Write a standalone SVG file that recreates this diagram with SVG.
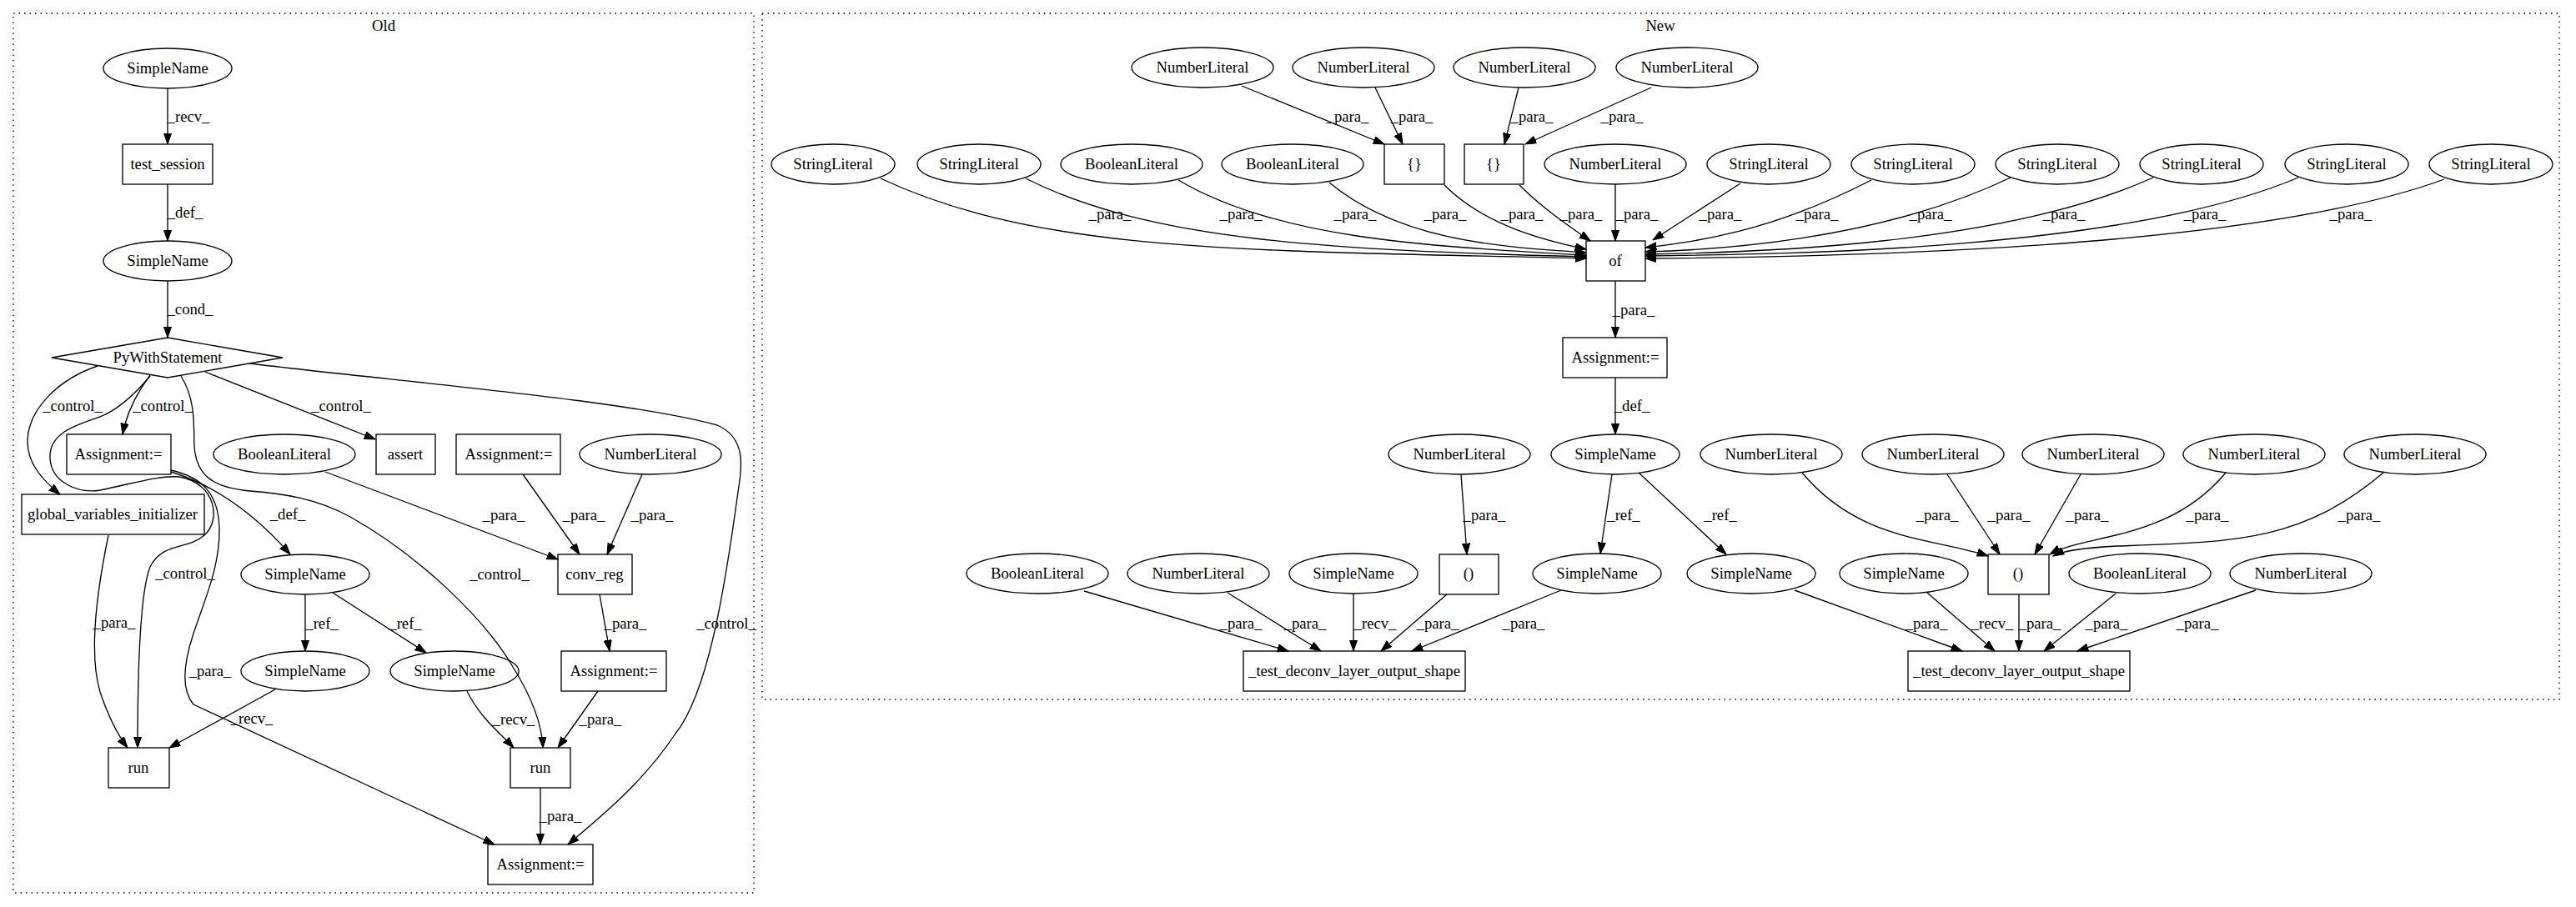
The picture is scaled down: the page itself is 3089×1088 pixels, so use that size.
<svg xmlns="http://www.w3.org/2000/svg" width="3089" height="1088" viewBox="0 0 3089 1088">
<style>
.n ellipse,.n rect,.n polygon{fill:none;stroke:#000;stroke-width:1.33}
text{font-family:"Liberation Serif","Times New Roman",serif;font-size:18.67px;text-anchor:middle;fill:#000}
.e path{fill:none;stroke:#000;stroke-width:1.33;marker-end:url(#a)}
.c{fill:none;stroke:#000;stroke-width:1.33;stroke-dasharray:1.5,5}
</style>
<defs>
<marker id="a" markerWidth="14" markerHeight="10" refX="13.33" refY="4.67" orient="auto" markerUnits="userSpaceOnUse"><path d="M0,0 L13.33,4.67 L0,9.33 z" fill="#000" stroke="#000" stroke-width="1"/></marker>
</defs>
<rect width="3089" height="1088" fill="#fff"/>
<g id="cluster_old"><rect class="c" x="16" y="16" width="888" height="1055"/><text x="460" y="37">Old</text></g>
<g id="cluster_new"><rect class="c" x="914" y="16" width="2155" height="823"/><text x="1991" y="37">New</text></g>

<g id="connectors">
<g class="e">
<!-- Old -->
<path d="M201,106 L201,173"/>
<path d="M201,221 L201,289"/>
<path d="M201,337 L201,405"/>
<path d="M180,450 C165,470 152,495 147,521"/>
<path d="M117,439 C70,455 35,490 33,527 C32,555 50,575 72,593"/>
<path d="M246,446 L450,527"/>
<path d="M299,436 C500,460 750,480 860,510 C895,525 890,560 885,590 C870,700 850,830 810,880 C770,940 720,980 681,1013"/>
<path d="M217,451 C235,480 232,510 233,535 C235,570 255,585 300,589 C340,592 380,598 420,620 C500,665 580,740 615,800 C640,840 650,870 651,897"/>
<path d="M180,451 C160,475 140,492 120,500 C90,510 58,520 60,550 C62,580 95,592 120,588 C160,580 190,570 215,572 C260,580 265,625 245,642 C225,660 195,650 180,680 C168,710 165,800 165,897"/>
<path d="M205,564 C240,572 262,590 263,633 C264,680 245,720 232,760 C222,790 215,825 232,845 L593,1013"/>
<path d="M205,566 C250,580 300,610 348,665"/>
<path d="M130,642 C118,700 105,780 120,830 C130,860 140,880 153,897"/>
<path d="M390,566 L669,671"/>
<path d="M627,569 L695,665"/>
<path d="M770,569 L728,665"/>
<path d="M719,713 L731,781"/>
<path d="M366,713 L366,781"/>
<path d="M399,711 L511,783"/>
<path d="M330,827 L203,897"/>
<path d="M560,829 C575,860 600,880 616,897"/>
<path d="M717,829 L669,897"/>
<path d="M648,945 L648,1013"/>
<!-- New -->
<path d="M1489,103 L1660,173"/>
<path d="M1649,105 L1682,173"/>
<path d="M1821,105 L1804,173"/>
<path d="M1980,105 L1829,173"/>
<path d="M1056,214 C1250,305 1500,300 1902,310"/>
<path d="M1230,214 C1380,290 1600,300 1902,308"/>
<path d="M1413,216 C1530,285 1700,295 1902,306"/>
<path d="M1594,219 C1680,290 1800,296 1902,303"/>
<path d="M1732,222 C1780,270 1850,288 1902,299"/>
<path d="M1822,222 C1850,250 1880,270 1907,289"/>
<path d="M1937,221 L1937,289"/>
<path d="M2087,220 L1982,288"/>
<path d="M2244,216 C2120,280 2030,290 1973,297"/>
<path d="M2411,213 C2250,290 2050,300 1973,302"/>
<path d="M2582,213 C2400,295 2100,303 1973,305"/>
<path d="M2756,213 C2550,300 2150,305 1973,307"/>
<path d="M2931,215 C2700,300 2200,308 1973,310"/>
<path d="M1937,337 L1937,405"/>
<path d="M1937,453 L1937,521"/>
<path d="M1933,569 L1919,664"/>
<path d="M1965,567 L2070,665"/>
<path d="M1752,569 L1759,665"/>
<path d="M2161,567 C2230,650 2320,645 2384,667"/>
<path d="M2335,569 L2398,665"/>
<path d="M2495,569 L2440,665"/>
<path d="M2669,567 C2600,650 2500,640 2458,665"/>
<path d="M2858,567 C2760,650 2680,650 2540,655 C2500,657 2475,660 2462,667"/>
<path d="M1300,709 L1545,781"/>
<path d="M1472,711 L1584,781"/>
<path d="M1623,712 L1623,781"/>
<path d="M1735,713 L1656,781"/>
<path d="M1872,708 L1693,781"/>
<path d="M2152,708 L2353,781"/>
<path d="M2311,711 L2392,781"/>
<path d="M2421,713 L2421,781"/>
<path d="M2537,712 L2451,781"/>
<path d="M2705,708 L2491,781"/>
</g>
<g id="edge_labels">
<text x="226" y="146">_recv_</text>
<text x="222" y="261">_def_</text>
<text x="228" y="377">_cond_</text>
<text x="87" y="493">_control_</text>
<text x="195" y="493">_control_</text>
<text x="409" y="493">_control_</text>
<text x="345" y="623">_def_</text>
<text x="604" y="624">_para_</text>
<text x="700" y="624">_para_</text>
<text x="782" y="624">_para_</text>
<text x="222" y="694">_control_</text>
<text x="599" y="695">_control_</text>
<text x="137" y="753">_para_</text>
<text x="386" y="754">_ref_</text>
<text x="486" y="754">_ref_</text>
<text x="750" y="754">_para_</text>
<text x="871" y="754">_control_</text>
<text x="252" y="811">_para_</text>
<text x="302" y="868">_recv_</text>
<text x="616" y="869">_recv_</text>
<text x="720" y="869">_para_</text>
<text x="672" y="985">_para_</text>
<text x="1616" y="146">_para_</text>
<text x="1693" y="146">_para_</text>
<text x="1837" y="146">_para_</text>
<text x="1945" y="146">_para_</text>
<text x="1331" y="263">_para_</text>
<text x="1488" y="263">_para_</text>
<text x="1625" y="263">_para_</text>
<text x="1733" y="263">_para_</text>
<text x="1825" y="263">_para_</text>
<text x="1896" y="263">_para_</text>
<text x="1963" y="263">_para_</text>
<text x="2063" y="263">_para_</text>
<text x="2179" y="263">_para_</text>
<text x="2315" y="263">_para_</text>
<text x="2475" y="263">_para_</text>
<text x="2644" y="263">_para_</text>
<text x="2819" y="263">_para_</text>
<text x="1959" y="378">_para_</text>
<text x="1957" y="493">_def_</text>
<text x="1947" y="624">_ref_</text>
<text x="2063" y="624">_ref_</text>
<text x="1780" y="624">_para_</text>
<text x="2323" y="624">_para_</text>
<text x="2409" y="624">_para_</text>
<text x="2503" y="624">_para_</text>
<text x="2647" y="624">_para_</text>
<text x="2829" y="624">_para_</text>
<text x="1488" y="754">_para_</text>
<text x="1565" y="754">_para_</text>
<text x="1649" y="754">_recv_</text>
<text x="1724" y="754">_para_</text>
<text x="1827" y="754">_para_</text>
<text x="2310" y="754">_para_</text>
<text x="2389" y="754">_recv_</text>
<text x="2446" y="754">_para_</text>
<text x="2526" y="754">_para_</text>
<text x="2635" y="754">_para_</text>
</g>
</g>

<!-- Old nodes -->
<g id="o1" class="n"><ellipse cx="201" cy="82" rx="77" ry="24"/><text x="201" y="88">SimpleName</text></g>
<g id="o2" class="n"><rect x="147" y="173" width="108" height="48"/><text x="201" y="203">test_session</text></g>
<g id="o3" class="n"><ellipse cx="201" cy="313" rx="77" ry="24"/><text x="201" y="319">SimpleName</text></g>
<g id="o4" class="n"><polygon points="201,405 339,429 201,453 62,429"/><text x="201" y="435">PyWithStatement</text></g>
<g id="o5" class="n"><rect x="80" y="521" width="125" height="48"/><text x="142" y="551">Assignment:=</text></g>
<g id="o6" class="n"><ellipse cx="341" cy="545" rx="85" ry="24"/><text x="341" y="551">BooleanLiteral</text></g>
<g id="o7" class="n"><rect x="451" y="521" width="71" height="48"/><text x="486" y="551">assert</text></g>
<g id="o8" class="n"><rect x="547" y="521" width="125" height="48"/><text x="610" y="551">Assignment:=</text></g>
<g id="o9" class="n"><ellipse cx="780" cy="545" rx="85" ry="24"/><text x="780" y="551">NumberLiteral</text></g>
<g id="o10" class="n"><rect x="26" y="593" width="219" height="48"/><text x="135" y="623">global_variables_initializer</text></g>
<g id="o11" class="n"><ellipse cx="366" cy="689" rx="77" ry="24"/><text x="366" y="695">SimpleName</text></g>
<g id="o12" class="n"><rect x="669" y="665" width="89" height="48"/><text x="713" y="695">conv_reg</text></g>
<g id="o13" class="n"><ellipse cx="366" cy="805" rx="77" ry="24"/><text x="366" y="811">SimpleName</text></g>
<g id="o14" class="n"><ellipse cx="545" cy="805" rx="77" ry="24"/><text x="545" y="811">SimpleName</text></g>
<g id="o15" class="n"><rect x="673" y="781" width="126" height="48"/><text x="736" y="811">Assignment:=</text></g>
<g id="o16" class="n"><rect x="130" y="897" width="73" height="48"/><text x="166" y="927">run</text></g>
<g id="o17" class="n"><rect x="612" y="897" width="72" height="48"/><text x="648" y="927">run</text></g>
<g id="o18" class="n"><rect x="585" y="1013" width="126" height="48"/><text x="648" y="1043">Assignment:=</text></g>

<!-- New nodes -->
<g id="n1" class="n"><ellipse cx="1442" cy="81" rx="85" ry="24"/><text x="1442" y="87">NumberLiteral</text></g>
<g id="n2" class="n"><ellipse cx="1635" cy="81" rx="85" ry="24"/><text x="1635" y="87">NumberLiteral</text></g>
<g id="n3" class="n"><ellipse cx="1828" cy="81" rx="85" ry="24"/><text x="1828" y="87">NumberLiteral</text></g>
<g id="n4" class="n"><ellipse cx="2023" cy="81" rx="85" ry="24"/><text x="2023" y="87">NumberLiteral</text></g>
<g id="n5" class="n"><ellipse cx="999" cy="197" rx="74" ry="24"/><text x="999" y="203">StringLiteral</text></g>
<g id="n6" class="n"><ellipse cx="1174" cy="197" rx="74" ry="24"/><text x="1174" y="203">StringLiteral</text></g>
<g id="n7" class="n"><ellipse cx="1357" cy="197" rx="85" ry="24"/><text x="1357" y="203">BooleanLiteral</text></g>
<g id="n8" class="n"><ellipse cx="1550" cy="197" rx="85" ry="24"/><text x="1550" y="203">BooleanLiteral</text></g>
<g id="n9" class="n"><rect x="1660" y="173" width="72" height="48"/><text x="1696" y="203">{}</text></g>
<g id="n10" class="n"><rect x="1756" y="173" width="71" height="48"/><text x="1791" y="203">{}</text></g>
<g id="n11" class="n"><ellipse cx="1937" cy="197" rx="85" ry="24"/><text x="1937" y="203">NumberLiteral</text></g>
<g id="n12" class="n"><ellipse cx="2121" cy="197" rx="74" ry="24"/><text x="2121" y="203">StringLiteral</text></g>
<g id="n13" class="n"><ellipse cx="2294" cy="197" rx="74" ry="24"/><text x="2294" y="203">StringLiteral</text></g>
<g id="n14" class="n"><ellipse cx="2467" cy="197" rx="74" ry="24"/><text x="2467" y="203">StringLiteral</text></g>
<g id="n15" class="n"><ellipse cx="2640" cy="197" rx="74" ry="24"/><text x="2640" y="203">StringLiteral</text></g>
<g id="n16" class="n"><ellipse cx="2814" cy="197" rx="74" ry="24"/><text x="2814" y="203">StringLiteral</text></g>
<g id="n17" class="n"><ellipse cx="2987" cy="197" rx="74" ry="24"/><text x="2987" y="203">StringLiteral</text></g>
<g id="n18" class="n"><rect x="1902" y="289" width="71" height="48"/><text x="1937" y="319">of</text></g>
<g id="n19" class="n"><rect x="1874" y="405" width="125" height="48"/><text x="1937" y="435">Assignment:=</text></g>
<g id="n20" class="n"><ellipse cx="1750" cy="545" rx="85" ry="24"/><text x="1750" y="551">NumberLiteral</text></g>
<g id="n21" class="n"><ellipse cx="1937" cy="545" rx="77" ry="24"/><text x="1937" y="551">SimpleName</text></g>
<g id="n22" class="n"><ellipse cx="2124" cy="545" rx="85" ry="24"/><text x="2124" y="551">NumberLiteral</text></g>
<g id="n23" class="n"><ellipse cx="2318" cy="545" rx="85" ry="24"/><text x="2318" y="551">NumberLiteral</text></g>
<g id="n24" class="n"><ellipse cx="2510" cy="545" rx="85" ry="24"/><text x="2510" y="551">NumberLiteral</text></g>
<g id="n25" class="n"><ellipse cx="2703" cy="545" rx="85" ry="24"/><text x="2703" y="551">NumberLiteral</text></g>
<g id="n26" class="n"><ellipse cx="2896" cy="545" rx="85" ry="24"/><text x="2896" y="551">NumberLiteral</text></g>
<g id="n27" class="n"><ellipse cx="1244" cy="688" rx="85" ry="24"/><text x="1244" y="694">BooleanLiteral</text></g>
<g id="n28" class="n"><ellipse cx="1437" cy="688" rx="85" ry="24"/><text x="1437" y="694">NumberLiteral</text></g>
<g id="n29" class="n"><ellipse cx="1623" cy="688" rx="77" ry="24"/><text x="1623" y="694">SimpleName</text></g>
<g id="n30" class="n"><rect x="1726" y="665" width="71" height="48"/><text x="1761" y="694">()</text></g>
<g id="n31" class="n"><ellipse cx="1915" cy="688" rx="77" ry="24"/><text x="1915" y="694">SimpleName</text></g>
<g id="n32" class="n"><ellipse cx="2100" cy="688" rx="77" ry="24"/><text x="2100" y="694">SimpleName</text></g>
<g id="n33" class="n"><ellipse cx="2283" cy="688" rx="77" ry="24"/><text x="2283" y="694">SimpleName</text></g>
<g id="n34" class="n"><rect x="2384" y="665" width="73" height="48"/><text x="2420" y="694">()</text></g>
<g id="n35" class="n"><ellipse cx="2566" cy="688" rx="85" ry="24"/><text x="2566" y="694">BooleanLiteral</text></g>
<g id="n36" class="n"><ellipse cx="2759" cy="688" rx="85" ry="24"/><text x="2759" y="694">NumberLiteral</text></g>
<g id="n37" class="n"><rect x="1491" y="781" width="266" height="48"/><text x="1624" y="811">_test_deconv_layer_output_shape</text></g>
<g id="n38" class="n"><rect x="2288" y="781" width="266" height="48"/><text x="2421" y="811">_test_deconv_layer_output_shape</text></g>
</svg>
